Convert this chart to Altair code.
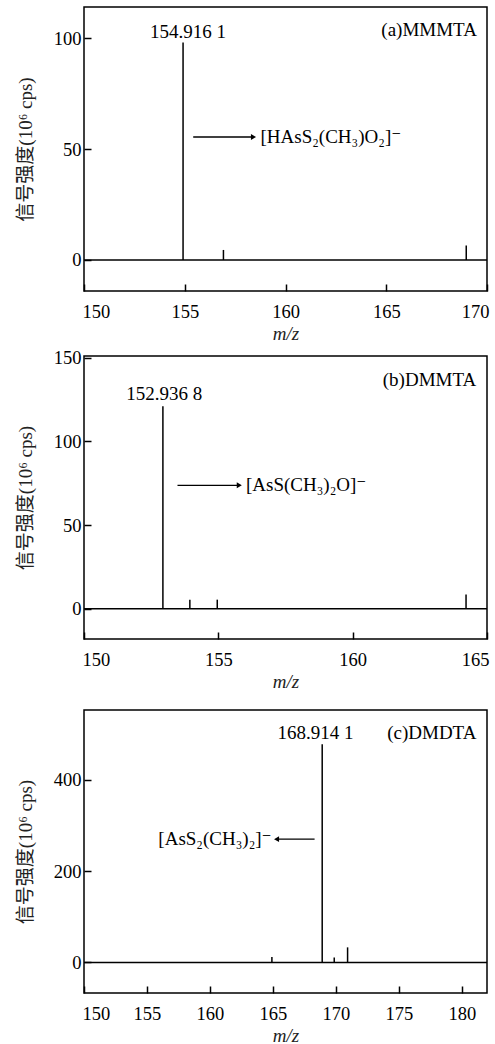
import altair as alt
import pandas as pd

FONT = "Liberation Serif, DejaVu Serif, Noto Sans CJK SC"
YTITLE = "信号强度(10⁶ cps)"
XTITLE = "m/z"

# ---------- (a) MMMTA ----------
a_mz = [154.9161, 156.92, 168.97]
a_int = [98.0, 4.5, 6.5]
a_xdom = [150, 170]
a_ydom = [-14, 114]
a_xticks = [150, 155, 160, 165, 170]
a_yticks = [0, 50, 100]
a_peak = "154.916 1"
a_peak_pos = [155.16, 100]
a_tag = "(a)MMMTA"
a_tag_pos = [169.5, 101]
a_arrow = [155.42, 158.41, 55.4]
a_formula = "[HAsS₂(CH₃)O₂]⁻"
a_formula_x = 158.76

# ---------- (b) DMMTA ----------
b_mz = [152.9368, 153.94, 154.96, 164.22]
b_int = [121.0, 5.5, 5.5, 8.5]
b_xdom = [150, 165]
b_ydom = [-18, 151]
b_xticks = [150, 155, 160, 165]
b_yticks = [0, 50, 100, 150]
b_peak = "152.936 8"
b_peak_pos = [152.99, 125]
b_tag = "(b)DMMTA"
b_tag_pos = [164.6, 133]
b_arrow = [153.48, 155.78, 73.8]
b_formula = "[AsS(CH₃)₂O]⁻"
b_formula_x = 156.03

# ---------- (c) DMDTA ----------
c_mz = [164.92, 168.9141, 169.87, 170.93]
c_int = [12.0, 478.0, 11.0, 33.0]
c_xdom = [150, 182]
c_ydom = [-67, 553]
c_xticks = [150, 155, 160, 165, 170, 175, 180]
c_yticks = [0, 200, 400]
c_peak = "168.914 1"
c_peak_pos = [168.39, 489]
c_tag = "(c)DMDTA"
c_tag_pos = [181.16, 489]
c_arrow = [168.31, 165.29, 270]
c_formula = "[AsS₂(CH₃)₂]⁻"
c_formula_x = 164.9

W = 403


def panel(mz, inten, xdom, ydom, xticks, yticks, H, peak, peak_pos, tag, tag_pos,
          arrow, formula, formula_x, left_arrow=False):
    df = pd.DataFrame({"mz": mz, "inten": inten})
    xs = alt.Scale(domain=xdom, nice=False, zero=False)
    ys = alt.Scale(domain=ydom, nice=False, zero=False)

    peaks = alt.Chart(df).mark_rule(color="black", strokeWidth=1.5).encode(
        x=alt.X("mz:Q", scale=xs,
                axis=alt.Axis(orient="bottom", values=xticks, ticks=False, tickSize=0,
                              domain=False, grid=False, labelPadding=11,
                              labelFlush=True, labelFlushOffset=2, labelOverlap=False,
                              title=XTITLE, titleFontStyle="italic",
                              titleY=48, titleBaseline="alphabetic")),
        y=alt.Y("inten:Q", scale=ys,
                axis=alt.Axis(orient="left", values=yticks, ticks=False, tickSize=0,
                              domain=False, grid=False, labelPadding=3,
                              labelFlush=False, labelOverlap=False,
                              title=YTITLE, titleX=-59, titleY=H / 2,
                              titleAngle=270, titleAlign="center",
                              titleBaseline="middle", titleColor="#222")),
        y2=alt.datum(0),
    )
    ticks = alt.Chart(df).mark_point(opacity=0).encode(
        x=alt.X("mz:Q", scale=xs,
                axis=alt.Axis(orient="top", offset=-H, values=xticks, labels=False,
                              ticks=True, tickSize=7, domain=False, grid=False, title=None)),
        y=alt.Y("inten:Q", scale=ys,
                axis=alt.Axis(orient="right", offset=-W, values=yticks, labels=False,
                              ticks=True, tickSize=7, domain=False, grid=False, title=None)),
    )
    base_df = pd.DataFrame({"y": [0]})
    baseline = alt.Chart(base_df).mark_rule(color="black", strokeWidth=1.5).encode(
        y=alt.Y("y:Q", scale=ys, axis=None)
    )
    peak_df = pd.DataFrame({"x": [peak_pos[0]], "y": [peak_pos[1]], "t": [peak]})
    peak_txt = alt.Chart(peak_df).mark_text(
        font=FONT, fontSize=19, align="center", baseline="alphabetic", color="black"
    ).encode(x=alt.X("x:Q", scale=xs, axis=None), y=alt.Y("y:Q", scale=ys, axis=None), text="t:N")
    tag_df = pd.DataFrame({"x": [tag_pos[0]], "y": [tag_pos[1]], "t": [tag]})
    tag_txt = alt.Chart(tag_df).mark_text(
        font=FONT, fontSize=19, align="right", baseline="alphabetic", color="black"
    ).encode(x=alt.X("x:Q", scale=xs, axis=None), y=alt.Y("y:Q", scale=ys, axis=None), text="t:N")
    arr_df = pd.DataFrame({"x1": [arrow[0]], "x2": [arrow[1]], "y": [arrow[2]]})
    arr_line = alt.Chart(arr_df).mark_rule(color="black", strokeWidth=1.3).encode(
        x=alt.X("x1:Q", scale=xs, axis=None), x2="x2:Q", y=alt.Y("y:Q", scale=ys, axis=None)
    )
    arr_head = alt.Chart(arr_df).mark_point(
        shape="triangle-left" if left_arrow else "triangle-right",
        filled=True, size=34, color="black", opacity=1
    ).encode(x=alt.X("x2:Q", scale=xs, axis=None), y=alt.Y("y:Q", scale=ys, axis=None))
    f_df = pd.DataFrame({"x": [formula_x], "y": [arrow[2]], "t": [formula]})
    f_txt = alt.Chart(f_df).mark_text(
        font=FONT, fontSize=19, align="right" if left_arrow else "left",
        baseline="middle", color="black"
    ).encode(x=alt.X("x:Q", scale=xs, axis=None), y=alt.Y("y:Q", scale=ys, axis=None), text="t:N")

    return alt.layer(peaks, ticks, baseline, peak_txt, tag_txt, arr_line, arr_head, f_txt).resolve_axis(
        x="independent", y="independent"
    ).properties(width=W, height=H)


pa = panel(a_mz, a_int, a_xdom, a_ydom, a_xticks, a_yticks, 284, a_peak, a_peak_pos,
           a_tag, a_tag_pos, a_arrow, a_formula, a_formula_x)
pb = panel(b_mz, b_int, b_xdom, b_ydom, b_xticks, b_yticks, 283, b_peak, b_peak_pos,
           b_tag, b_tag_pos, b_arrow, b_formula, b_formula_x)
pc = panel(c_mz, c_int, c_xdom, c_ydom, c_xticks, c_yticks, 283, c_peak, c_peak_pos,
           c_tag, c_tag_pos, c_arrow, c_formula, c_formula_x, left_arrow=True)

top = alt.vconcat(pa, pb, spacing=65, bounds="flush")
chart = alt.vconcat(top, pc, spacing=17).properties(
    padding={"left": 15, "top": 6, "right": 0, "bottom": 0},
    background="white"
).configure_view(
    stroke="black", strokeWidth=1.5
).configure_axis(
    labelFont=FONT, titleFont=FONT, labelFontSize=18.5, titleFontSize=19,
    labelColor="black", titleColor="#222", titleFontWeight="normal",
    tickColor="black", tickWidth=1.5
)

chart.save("out.html", embed_options={"renderer": "svg", "actions": False})
